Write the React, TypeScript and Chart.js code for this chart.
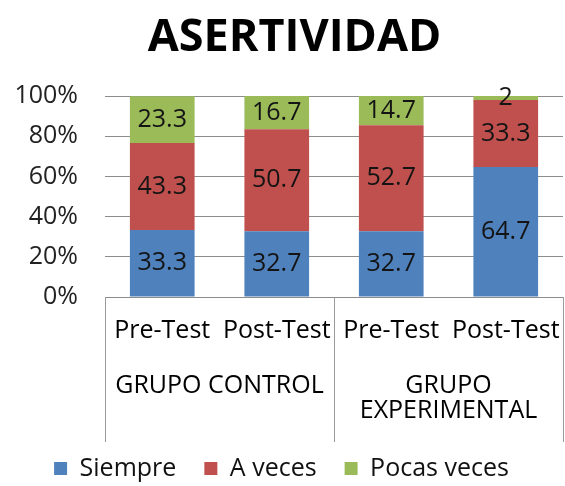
import React, { useEffect, useRef } from 'react';
import { Chart, registerables } from 'chart.js';

Chart.register(...registerables);

const titleText = 'ASERTIVIDAD';
const categories = ['Pre-Test', 'Post-Test', 'Pre-Test', 'Post-Test'];
const groups: (string | string[])[] = ['GRUPO CONTROL', ['GRUPO', 'EXPERIMENTAL']];
const siempre = [33.3, 32.7, 32.7, 64.7];
const aVeces = [43.3, 50.7, 52.7, 33.3];
const pocasVeces = [23.3, 16.7, 14.7, 2];
const seriesNames = ['Siempre', 'A veces', 'Pocas veces'];
const seriesColors = ['#4F81BD', '#C0504D', '#9BBB59'];
const yMax = 100;
const yStep = 20;

const FONT = '"Open Sans", "Noto Sans", sans-serif';

const valueLabels = {
  id: 'valueLabels',
  afterDatasetsDraw(chart: any) {
    const ctx = chart.ctx;
    ctx.save();
    ctx.font = `25px ${FONT}`;
    ctx.textAlign = 'center';
    ctx.textBaseline = 'middle';
    ctx.fillStyle = '#141414';
    chart.data.datasets.forEach((ds: any, di: number) => {
      const meta = chart.getDatasetMeta(di);
      meta.data.forEach((el: any, i: number) => {
        const p = el.getProps(['x', 'y', 'base'], true);
        ctx.fillText(String(ds.data[i]), p.x, (p.y + p.base) / 2);
      });
    });
    ctx.restore();
  },
};

const groupSeparators = {
  id: 'groupSeparators',
  afterDraw(chart: any) {
    const x = chart.scales.x;
    const ctx = chart.ctx;
    const top = chart.chartArea.bottom;
    const bottom = chart.scales.x2.bottom + 14;
    const mid = (x.getPixelForTick(1) + x.getPixelForTick(2)) / 2;
    ctx.save();
    ctx.strokeStyle = '#9a9a9a';
    ctx.lineWidth = 1;
    [x.left, mid, x.right].forEach((px: number) => {
      const xx = Math.round(px) + 0.5;
      ctx.beginPath();
      ctx.moveTo(xx, top);
      ctx.lineTo(xx, bottom);
      ctx.stroke();
    });
    ctx.restore();
  },
};

const chartTitle = {
  id: 'chartTitle',
  afterDraw(chart: any) {
    const ctx = chart.ctx;
    ctx.save();
    ctx.font = `bold 45px ${FONT}`;
    ctx.textAlign = 'center';
    ctx.textBaseline = 'middle';
    ctx.fillStyle = '#000';
    ctx.fillText(titleText, chart.width / 2 + 12, 38);
    ctx.restore();
  },
};

const noSidePadding = (scale: any) => {
  scale.paddingLeft = 0;
  scale.paddingRight = 0;
};

export default function App() {
  const ref = useRef<HTMLCanvasElement | null>(null);
  useEffect(() => {
    document.body.style.margin = '0';
    const canvas = ref.current;
    if (!canvas) return;
    const data = [siempre, aVeces, pocasVeces];
    const chart = new Chart(canvas, {
      type: 'bar',
      data: {
        labels: categories,
        datasets: data.map((d, i) => ({
          label: seriesNames[i],
          data: d,
          backgroundColor: seriesColors[i],
          borderWidth: 0,
          categoryPercentage: 1,
          barPercentage: 0.565,
        })),
      },
      options: {
        animation: false,
        responsive: true,
        maintainAspectRatio: false,
        layout: { padding: { top: 96, right: 2, bottom: -5 } },
        plugins: {
          title: { display: false },
          legend: {
            position: 'bottom',
            labels: {
              color: '#111',
              font: { family: FONT, size: 25 },
              boxWidth: 13,
              boxHeight: 13,
              padding: 28,
            },
          },
          tooltip: { enabled: false },
        },
        scales: {
          x: {
            stacked: true,
            weight: 0,
            grid: { display: false, drawTicks: false },
            border: { display: false },
            ticks: {
              color: '#000',
              font: { family: FONT, size: 25 },
              padding: 19,
              maxRotation: 0,
              autoSkip: false,
            },
            afterFit(scale: any) {
              scale.height = 76;
              noSidePadding(scale);
            },
          },
          x2: {
            type: 'category',
            position: 'bottom',
            weight: 1,
            labels: groups as any,
            offset: true,
            grid: { display: false, drawTicks: false },
            border: { display: false },
            ticks: {
              color: '#000',
              font: { family: FONT, size: 25, lineHeight: 1.0 },
              padding: 0,
              maxRotation: 0,
              autoSkip: false,
            },
            afterFit(scale: any) {
              scale.height = 55;
              noSidePadding(scale);
            },
          },
          y: {
            stacked: true,
            min: 0,
            max: yMax,
            grid: { color: '#8c8c8c', drawTicks: false },
            border: { display: false },
            ticks: {
              stepSize: yStep,
              color: '#222',
              font: { family: FONT, size: 25 },
              padding: 27,
              callback: (v: any) => `${v}%`,
            },
            afterFit(scale: any) {
              scale.width = 105;
            },
          },
        },
      } as any,
      plugins: [valueLabels, groupSeparators, chartTitle],
    });
    return () => chart.destroy();
  }, []);
  return (
    <div style={{ width: '565px', height: '486px', position: 'relative' }}>
      <canvas ref={ref} />
    </div>
  );
}
